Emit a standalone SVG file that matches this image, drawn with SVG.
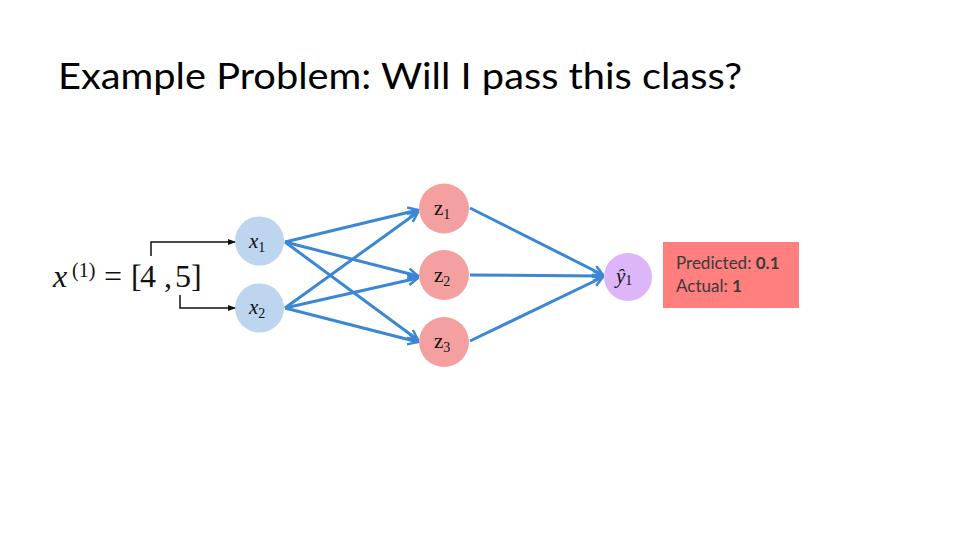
<svg xmlns="http://www.w3.org/2000/svg" width="960" height="540" viewBox="0 0 960 540">
<defs>
<style>
.title{font-family:Lato,"Open Sans",sans-serif;font-size:36px;fill:#000}
.math{font-family:"Liberation Serif","DejaVu Serif",serif;fill:#111}
.it{font-style:italic}
.blue{stroke:#3b87d3;stroke-width:3;fill:none;marker-end:url(#ab)}
.blk{stroke:#111;stroke-width:1.5;fill:none;marker-end:url(#ak)}
.xn{fill:#bdd5ee}
.zn{fill:#f4a0a0}
.yn{fill:#dcb6f9}
.box{font-family:Lato,"Open Sans",sans-serif;font-size:17px;fill:#3a3a3a}
</style>
<marker id="ab" markerWidth="12" markerHeight="12" viewBox="0 0 12 12" refX="11" refY="6" orient="auto" markerUnits="userSpaceOnUse">
<path d="M1,1 L11,6 L1,11" fill="none" stroke="#3b87d3" stroke-width="2.5" stroke-linejoin="miter"/>
</marker>
<marker id="ak" markerWidth="8" markerHeight="8" viewBox="0 0 8 8" refX="8" refY="4" orient="auto" markerUnits="userSpaceOnUse">
<path d="M0,1 L8,4 L0,7 Z" fill="#111"/>
</marker>
</defs>
<rect width="960" height="540" fill="#fff"/>
<text class="title" x="58" y="89" textLength="684" lengthAdjust="spacingAndGlyphs">Example Problem: Will I pass this class?</text>

<g id="connectors">
<path class="blk" d="M151,256 V242 H236"/>
<path class="blk" d="M180,295 V308 H236"/>
<line class="blue" x1="285" y1="242" x2="418" y2="210"/>
<line class="blue" x1="285" y1="242" x2="418" y2="276"/>
<line class="blue" x1="285" y1="242" x2="418" y2="340"/>
<line class="blue" x1="285" y1="308" x2="418" y2="212"/>
<line class="blue" x1="285" y1="308" x2="418" y2="278"/>
<line class="blue" x1="285" y1="308" x2="418" y2="342"/>
<line class="blue" x1="470" y1="208" x2="603" y2="275"/>
<line class="blue" x1="470" y1="275" x2="603" y2="276"/>
<line class="blue" x1="470" y1="341" x2="603" y2="277"/>
</g>

<g id="equation" class="math" font-size="32">
<text class="it" x="53" y="287">x</text>
<text x="72" y="277" font-size="20">(1)</text>
<text x="104" y="287">=</text>
<text x="131" y="287">[</text>
<text x="140" y="287">4</text>
<text x="164" y="287">,</text>
<text x="175" y="287">5</text>
<text x="191" y="287">]</text>
</g>

<g id="x1"><circle class="xn" cx="259.5" cy="241" r="24.5"/><text class="math it" x="249" y="248" font-size="21">x<tspan font-style="normal" font-size="14" dy="4">1</tspan></text></g>
<g id="x2"><circle class="xn" cx="259.5" cy="308" r="24.5"/><text class="math it" x="249" y="314" font-size="21">x<tspan font-style="normal" font-size="14" dy="4">2</tspan></text></g>

<g id="z1"><circle class="zn" cx="444" cy="208.5" r="25"/><text class="math" x="434" y="215" font-size="21">z<tspan font-size="14" dy="4">1</tspan></text></g>
<g id="z2"><circle class="zn" cx="444" cy="275" r="25"/><text class="math" x="434" y="282" font-size="21">z<tspan font-size="14" dy="4">2</tspan></text></g>
<g id="z3"><circle class="zn" cx="444" cy="342" r="25"/><text class="math" x="434" y="348" font-size="21">z<tspan font-size="14" dy="4">3</tspan></text></g>

<g id="y1"><circle class="yn" cx="628" cy="277" r="24"/><text class="math it" x="616" y="283" font-size="21">ŷ<tspan font-style="normal" font-size="14" dy="2">1</tspan></text></g>

<g id="result">
<rect x="663" y="242" width="136" height="66" fill="#ff7f7e"/>
<text class="box" x="676" y="269">Predicted: <tspan font-weight="bold">0.1</tspan></text>
<text class="box" x="676" y="292">Actual: <tspan font-weight="bold">1</tspan></text>
</g>
</svg>
